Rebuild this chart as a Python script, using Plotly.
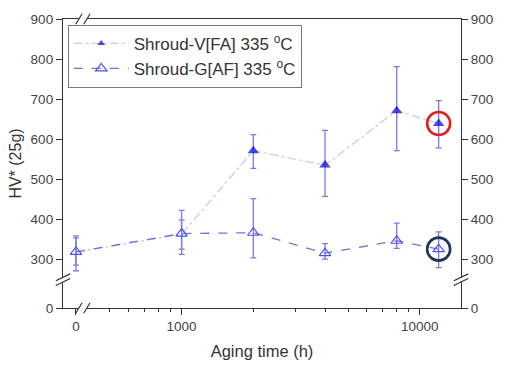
import plotly.graph_objects as go

# ---- data ----
aging_time = [0, 1000, 2000, 4000, 8000, 12000]
zero_pos = 360  # log-axis position used for the "0 h" point (axis is broken)

v_fa = [318, 362, 571, 535, 671, 639]
v_fa_err_plus = [35, 36, 40, 87, 110, 57]
v_fa_err_minus = [33, 37, 44, 78, 100, 61]

g_af = [318, 364, 366, 315, 346, 325]
g_af_err_plus = [40, 58, 85, 24, 44, 43]
g_af_err_minus = [47, 52, 63, 15, 19, 46]

x_tick_vals = [0, 1000, 10000]
x_tick_text = ["0", "1000", "10000"]
x_minor = [500, 600, 700, 800, 900, 2000, 3000, 4000, 5000, 6000, 7000, 8000, 9000]
y_tick_text = ["0", "300", "400", "500", "600", "700", "800", "900"]
y_zero_pos = 178  # axis position of the "0" label below the break
highlight_idx = 5


def xpos(v):
    return zero_pos if v == 0 else v


xs = [xpos(v) for v in aging_time]
ytv = [y_zero_pos] + [int(t) for t in y_tick_text[1:]]
xtv = [xpos(v) for v in x_tick_vals]

font = "Liberation Sans, Arial, sans-serif"
fig = go.Figure()

fig.add_trace(go.Scatter(
    x=xs, y=v_fa, name="Shroud-V[FA] 335 <sup>o</sup>C",
    mode="lines+markers",
    line=dict(color="#cacaf4", width=1.3, dash="dashdot"),
    marker=dict(symbol="triangle-up", size=[0, 0, 10, 10, 10, 10], color="#0000d8",
                line=dict(width=0)),
    error_y=dict(type="data", array=v_fa_err_plus, arrayminus=v_fa_err_minus,
                 color="#7a7aee", thickness=1.3, width=3),
))
fig.add_trace(go.Scatter(
    x=xs, y=g_af, name="Shroud-G[AF] 335 <sup>o</sup>C",
    mode="lines+markers",
    line=dict(color="#7070e2", width=1.3, dash="dash"),
    marker=dict(symbol="triangle-up-open", size=10, color="#5050e0",
                line=dict(width=1.2)),
    error_y=dict(type="data", array=g_af_err_plus, arrayminus=g_af_err_minus,
                 color="#7a7aee", thickness=1.3, width=3),
))
# highlight circles
fig.add_trace(go.Scatter(
    x=[xs[highlight_idx]], y=[v_fa[highlight_idx]], mode="markers", showlegend=False,
    marker=dict(symbol="circle-open", size=23, color="#e01e1e", line=dict(width=2.6)),
    hoverinfo="skip"))
fig.add_trace(go.Scatter(
    x=[xs[highlight_idx]], y=[g_af[highlight_idx]], mode="markers", showlegend=False,
    marker=dict(symbol="circle-open", size=23, color="#1e3658", line=dict(width=2.6)),
    hoverinfo="skip"))
# invisible trace to carry right y-axis
fig.add_trace(go.Scatter(x=xs, y=g_af, yaxis="y2", mode="markers", showlegend=False,
                         marker=dict(opacity=0), hoverinfo="skip"))

fig.update_layout(
    width=505, height=370,
    margin=dict(l=63, r=36, t=16, b=57),
    paper_bgcolor="white", plot_bgcolor="white",
    font=dict(family=font, size=13, color="#333"),
    showlegend=True,
    legend=dict(x=0.012, y=0.98, xanchor="left", yanchor="top",
                bgcolor="white", bordercolor="#777", borderwidth=1,
                font=dict(size=17, color="#333"), tracegroupgap=0,
                itemwidth=55),
    xaxis=dict(type="log", range=[2.502, 4.173], tickmode="array",
               tickvals=xtv, ticktext=x_tick_text, ticks="outside", ticklen=6,
               tickcolor="#333", showline=True, linecolor="#333", linewidth=1.3,
               mirror=True, showgrid=False, zeroline=False,
               tickfont=dict(size=13.5, color="#444"),
               minor=dict(tickvals=x_minor, ticks="outside", ticklen=3, tickcolor="#333"),
               title=dict(text="Aging time (h)", font=dict(size=16.5, color="#333"), standoff=12)),
    yaxis=dict(range=[y_zero_pos, 900], tickmode="array", tickvals=ytv,
               ticktext=y_tick_text, ticks="outside", ticklen=6, tickcolor="#333",
               showline=True, linecolor="#333", linewidth=1.3, showgrid=False,
               zeroline=False, tickfont=dict(size=13.5, color="#444"),
               title=dict(text="HV* (25g)", font=dict(size=16, color="#333"), standoff=5)),
    yaxis2=dict(range=[y_zero_pos, 900], overlaying="y", side="right", tickmode="array",
                tickvals=ytv, ticktext=y_tick_text, ticks="outside", ticklen=6,
                tickcolor="#333", showline=True, linecolor="#333", linewidth=1.3,
                showgrid=False, zeroline=False, tickfont=dict(size=13.5, color="#444")),
)

# axis-break marks (decoration)
def brk(x0, y0, vertical_axis):
    shapes = []
    if vertical_axis:
        shapes.append(dict(type="line", xref="paper", yref="paper", x0=x0, x1=x0,
                           y0=y0 - 0.008, y1=y0 + 0.008, line=dict(color="white", width=4)))
        for dy in (-0.008, 0.008):
            shapes.append(dict(type="line", xref="paper", yref="paper",
                               x0=x0 - 0.018, x1=x0 + 0.018, y0=y0 + dy - 0.012,
                               y1=y0 + dy + 0.012, line=dict(color="#333", width=1.2)))
    else:
        shapes.append(dict(type="line", xref="paper", yref="paper", x0=x0 - 0.01, x1=x0 + 0.01,
                           y0=y0, y1=y0, line=dict(color="white", width=4)))
        for dx in (-0.01, 0.01):
            shapes.append(dict(type="line", xref="paper", yref="paper",
                               x0=x0 + dx - 0.008, x1=x0 + dx + 0.008, y0=y0 - 0.018,
                               y1=y0 + 0.018, line=dict(color="#333", width=1.2)))
    return shapes

shapes = []
shapes += brk(0.0, 0.098, True)
shapes += brk(1.0, 0.098, True)
shapes += brk(0.05, 0.0, False)
shapes += brk(0.05, 1.0, False)
fig.update_layout(shapes=shapes)

fig.write_html("out.html")
